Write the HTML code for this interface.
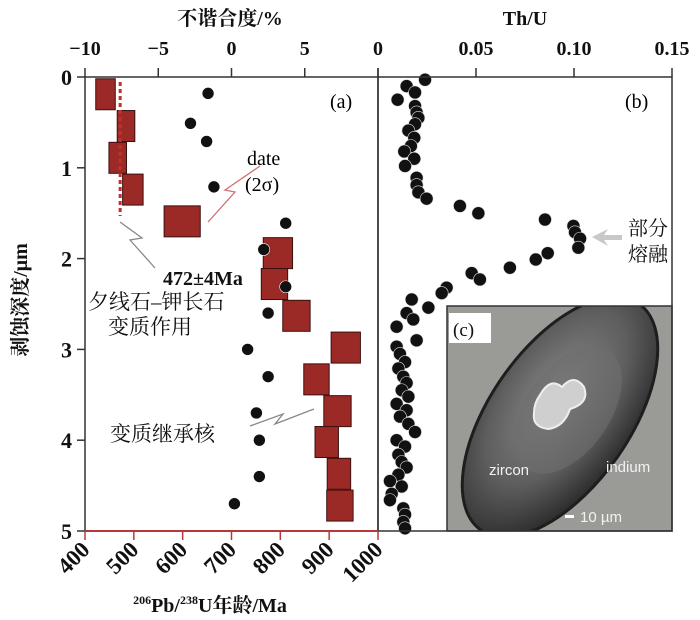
<!DOCTYPE html>
<html><head><meta charset="utf-8">
<style>
body{margin:0;background:#fff;}
svg{display:block;font-family:"Liberation Serif","Noto Serif CJK SC",serif;}
.tk{font-size:20px;font-weight:bold;fill:#111;}
.cn{font-family:"Liberation Serif","Noto Serif CJK SC",serif;font-size:20px;fill:#111;}
</style></head>
<body>
<svg id="chart" width="700" height="620" viewBox="0 0 700 620" xmlns="http://www.w3.org/2000/svg">
<defs>
<radialGradient id="zg" cx="0.55" cy="0.4" r="0.6">
<stop offset="0" stop-color="#8a8a8a"/><stop offset="0.6" stop-color="#5e5e5e"/><stop offset="1" stop-color="#2e2e2e"/>
</radialGradient>
<clipPath id="insetClip"><rect x="447" y="306" width="225" height="225"/></clipPath>
</defs>
<g id="marks"></g>
<g id="axes"></g>
</svg>
<script>
// ---- data ----
const ageValues = [442,484,467,498,599,795,788,833,934,874,917,895,920,922];
const ageErrors = [20,18,18,21,37,30,27,28,30,26,28,24,24,27];
const ageDepths = [0.19,0.54,0.89,1.24,1.59,1.94,2.28,2.63,2.98,3.33,3.68,4.02,4.37,4.72];
const discValues = [-1.6,-2.8,-1.7,-1.2,3.7,2.2,3.7,2.5,1.1,2.5,1.7,1.9,1.9,0.2];
const discDepths = [0.18,0.51,0.71,1.21,1.61,1.90,2.31,2.60,3.00,3.30,3.70,4.00,4.40,4.70];
const thuValues = [0.024,0.0146,0.0189,0.010,0.0189,0.0197,0.0206,0.0189,0.0155,0.0185,0.0168,0.0134,0.0185,0.0138,0.0197,0.0197,0.0206,0.0248,0.0418,0.0512,0.0852,0.0997,0.1005,0.1031,0.1022,0.0866,0.0805,0.0673,0.0478,0.052,0.035,0.0325,0.0172,0.0257,0.0146,0.018,0.0095,0.0197,0.0095,0.0112,0.0138,0.0104,0.0129,0.0146,0.0121,0.0155,0.0095,0.0146,0.0112,0.0155,0.0189,0.0095,0.0138,0.0104,0.0121,0.0146,0.0104,0.0061,0.0121,0.007,0.0061,0.0129,0.0138,0.0129,0.0138];
const thuDepths = [0.03,0.10,0.17,0.25,0.32,0.39,0.45,0.52,0.59,0.67,0.76,0.82,0.90,0.98,1.11,1.19,1.27,1.34,1.42,1.50,1.57,1.64,1.71,1.78,1.88,1.94,2.01,2.10,2.16,2.23,2.32,2.38,2.45,2.54,2.60,2.67,2.75,2.90,2.97,3.05,3.14,3.21,3.30,3.37,3.45,3.52,3.60,3.67,3.74,3.82,3.91,4.00,4.07,4.16,4.24,4.30,4.38,4.45,4.51,4.59,4.66,4.75,4.82,4.90,4.97];
const depthTicks = [0,1,2,3,4,5];
const discTicks = [-10,-5,0,5,10];
const discTickLabels = ["−10","−5","0","5",""];
const ageTicks = [400,500,600,700,800,900,1000];
const thuTicks = [0,0.05,0.10,0.15];
const thuTickLabels = ["0","0.05","0.10","0.15"];

// ---- scales ----
const L=85, M=378, R=672, T=77, B=531;
const yD = d => T + d*(B-T)/5;
const xAge = a => L + (a-400)*(M-L)/600;
const xDisc = v => L + (v+10)*(M-L)/20;
const xThu = v => M + v*(R-M)/0.15;
const NS="http://www.w3.org/2000/svg";
const svg=document.getElementById('chart');
const marks=document.getElementById('marks'), axes=document.getElementById('axes');
function mk(tag, attrs, parent){const e=document.createElementNS(NS,tag);for(const k in attrs)e.setAttribute(k,attrs[k]);(parent||marks).appendChild(e);return e;}
function txt(x,y,s,cls,parent,extra){const e=mk('text',Object.assign({x:x,y:y,class:cls},extra||{}),parent||axes);e.textContent=s;return e;}

const fa=mk('rect',{x:L,y:T,width:M-L,height:B-T,fill:'none',stroke:'#333','stroke-width':1.5},axes);


const fb=mk('rect',{x:M,y:T,width:R-M,height:B-T,fill:'none',stroke:'#333','stroke-width':1.5},axes);


const redAxis=mk('line',{x1:L,y1:B,x2:M,y2:B,stroke:'#b33a3a','stroke-width':2},axes);



depthTicks.forEach(d=>{
  mk('line',{x1:L-8,y1:yD(d),x2:L,y2:yD(d),stroke:'#333','stroke-width':1.5},axes);
  const t=txt(L-13,yD(d)+8,String(d),'tk',axes,{'text-anchor':'end',style:'font-size:22px'});
  
  
});
discTicks.forEach((v,i)=>{
  mk('line',{x1:xDisc(v),y1:T-9,x2:xDisc(v),y2:T,stroke:'#333','stroke-width':1.5},axes);
  if(discTickLabels[i]){const t=txt(xDisc(v),55,discTickLabels[i],'tk',axes,{'text-anchor':'middle'});
  
  }
});
thuTicks.forEach((v,i)=>{
  mk('line',{x1:xThu(v),y1:T-9,x2:xThu(v),y2:T,stroke:'#333','stroke-width':1.5},axes);
  const t=txt(xThu(v),55,thuTickLabels[i],'tk',axes,{'text-anchor':'middle'});
  
  
});
ageTicks.forEach(a=>{
  mk('line',{x1:xAge(a),y1:B,x2:xAge(a),y2:B+9,stroke:'#b33a3a','stroke-width':1.5},axes);
  const t=txt(xAge(a)+6,B+20,String(a),'tk',axes,{'text-anchor':'end',style:'font-size:23px',transform:`rotate(-45 ${xAge(a)+6} ${B+20})`});
  
  
});

const inset=mk('g',{'clip-path':'url(#insetClip)'});


mk('rect',{x:447,y:306,width:225,height:225,fill:'#9a9a96'},inset);
mk('ellipse',{cx:560,cy:417,rx:138,ry:70,fill:'url(#zg)',stroke:'#1e1e1e','stroke-width':3,transform:'rotate(-55 560 417)'},inset);
mk('ellipse',{cx:568,cy:410,rx:72,ry:42,fill:'#6e6e6e',opacity:0.6,transform:'rotate(-55 568 410)'},inset);
mk('path',{d:'M540 395 q10-18 22-8 q12-14 22 0 q6 16-14 22 q-6 18-22 20 q-16-2-14-16 q0-10 6-18z',fill:'#cfcfcf',stroke:'#eee','stroke-width':2},inset);
mk('rect',{x:447,y:306,width:225,height:225,fill:'none',stroke:'#333','stroke-width':1.5},axes);
const cbox=mk('rect',{x:449,y:313,width:42,height:30,fill:'#fff'},axes);


txt(453,336,'(c)','tk',axes,{style:'font-size:19px;font-weight:normal'});
txt(489,475,'zircon','',axes,{style:'font-family:Liberation Sans,sans-serif;font-size:15px;fill:#f2f2f2'});
txt(606,472,'indium','',axes,{style:'font-family:Liberation Sans,sans-serif;font-size:15px;fill:#f2f2f2'});
mk('rect',{x:565,y:515,width:9,height:3,fill:'#fff'},axes);
txt(580,522,'10 µm','',axes,{style:'font-family:Liberation Sans,sans-serif;font-size:15px;fill:#f2f2f2'});

const sqH=31;
ageValues.forEach((a,i)=>{
  const x1=xAge(a-ageErrors[i]), x2=xAge(a+ageErrors[i]);
  const r=mk('rect',{x:x1,y:yD(ageDepths[i])-sqH/2,width:x2-x1,height:sqH,fill:'#9b2a26',stroke:'#3a1010','stroke-width':1});
  
  
});
discValues.forEach((v,i)=>{
  const c=mk('circle',{cx:xDisc(v),cy:yD(discDepths[i]),r:6,fill:'#111',stroke:'#fff','stroke-width':0.6});
  
  
});
thuValues.forEach((v,i)=>{
  const c=mk('circle',{cx:xThu(v),cy:yD(thuDepths[i]),r:6.5,fill:'#111',stroke:'#ddd','stroke-width':0.6});
  
  
});

const dl=mk('line',{x1:xAge(472),y1:82,x2:xAge(472),y2:216,stroke:'#c0302c','stroke-width':3,'stroke-dasharray':'4 3'});


const z1=mk('polyline',{points:'208,222 235,192 225,190 260,166',fill:'none',stroke:'#d07070','stroke-width':1.3});


const z2=mk('polyline',{points:'120,222 142,238 130,240 155,268',fill:'none',stroke:'#888','stroke-width':1.3});


const z3=mk('polyline',{points:'250,426 283,414 275,424 314,409',fill:'none',stroke:'#888','stroke-width':1.3});


const arr=mk('polygon',{points:'592,237 608,229 604,235 622,235 622,240 604,240 608,246',fill:'#c8c8c8'});



txt(330,108,'(a)','',axes,{style:'font-size:20px'});
txt(625,108,'(b)','',axes,{style:'font-size:20px'});
txt(247,165,'date','',axes,{style:'font-size:20px'});
txt(245,191,'(2σ)','',axes,{style:'font-size:20px'});
txt(163,285,'472±4Ma','tk',axes,{style:'font-size:20px'});
txt(88,309,'夕线石–钾长石','cn',axes,{style:'font-size:21px'});
txt(108,334,'变质作用','cn',axes,{style:'font-size:21px'});
txt(110,441,'变质继承核','cn',axes,{style:'font-size:21px'});
txt(628,235,'部分','cn',axes);
txt(628,261,'熔融','cn',axes);
const t1=txt(230,25,'不谐合度/%','tk',axes,{'text-anchor':'middle'});


const t2=txt(525,25,'Th/U','tk',axes,{'text-anchor':'middle'});


const t3=mk('text',{x:210,y:612,class:'tk','text-anchor':'middle'},axes);
t3.innerHTML='<tspan font-size="12" dy="-8">206</tspan><tspan dy="8">Pb/</tspan><tspan font-size="12" dy="-8">238</tspan><tspan dy="8">U年龄/Ma</tspan>';


const t4=txt(27,300,'剥蚀深度/μm','tk',axes,{'text-anchor':'middle',transform:'rotate(-90 27 300)'});


</script>
</body></html>
